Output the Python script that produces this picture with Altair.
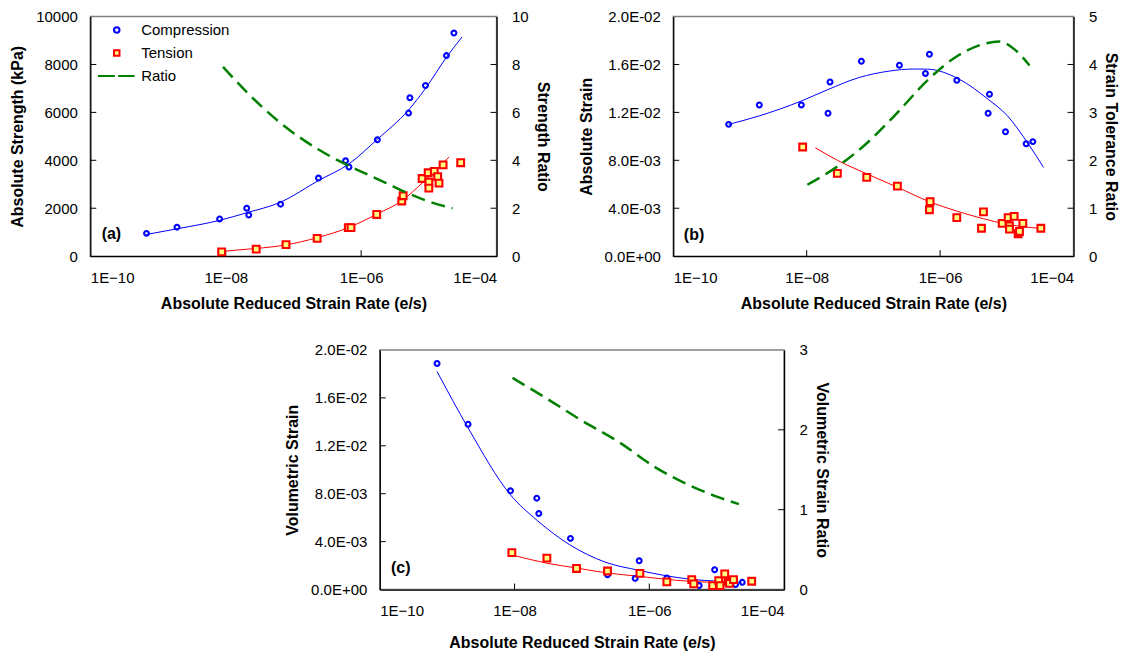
import json
import altair as alt
import pandas as pd

FONT = "Liberation Sans"
XTITLE = "Absolute Reduced Strain Rate (e/s)"
SERIES = ["Compression", "Tension", "Ratio"]
STROKES = ["#0000FF", "#FF0000", "#008000"]
FILLS = ["transparent", "#FFFF80", "transparent"]
SHAPES = ["circle", "square", "M-6.9,0H-0.7M0.5,0H6.5"]
X_TICKS = [1e-10, 1e-8, 1e-6, 1e-4]
X_INNER = [1e-8, 1e-6]

# ---------- panel (a) : log10 of strain rate, values ----------
a_comp_x = [-9.17, -8.72, -8.09, -7.69, -7.66, -7.19, -6.63, -6.23, -6.18, -5.76, -5.30, -5.28, -5.05, -4.74, -4.63]
a_comp_y = [950, 1210, 1550, 2000, 1720, 2170, 3260, 3980, 3720, 4860, 5970, 6610, 7120, 8370, 9310]
a_tens_x = [-8.06, -7.55, -7.11, -6.65, -6.19, -6.15, -5.77, -5.40, -5.38, -5.10, -5.01, -5.00, -5.00, -4.92, -4.87, -4.85, -4.79, -4.53]
a_tens_y = [180, 290, 480, 740, 1190, 1190, 1740, 2300, 2520, 3240, 3480, 3090, 2840, 3540, 3320, 3050, 3810, 3900]
a_cfit_x = [-9.17, -8.70, -8.09, -7.69, -7.19, -6.63, -6.18, -5.76, -5.30, -5.05, -4.74, -4.51]
a_cfit_y = [905, 1150, 1494, 1811, 2251, 3156, 3850, 4880, 6100, 7000, 8300, 9150]
a_tfit_x = [-8.06, -7.85, -7.55, -7.11, -6.65, -6.17, -5.77, -5.39, -5.10, -4.70]
a_tfit_y = [190, 250, 320, 470, 770, 1210, 1750, 2330, 3050, 4140]
a_ratio_x = [-8.04, -7.69, -7.21, -6.63, -6.26, -5.94, -5.63, -5.35, -5.00, -4.65]
a_ratio_y = [7.9, 6.85, 5.6, 4.45, 3.88, 3.45, 3.05, 2.68, 2.28, 2.0]

# ---------- panel (b) ----------
b_comp_x = [-9.17, -8.71, -8.08, -7.68, -7.65, -7.18, -6.61, -6.22, -6.16, -5.75, -5.28, -5.26, -5.02, -4.71, -4.61]
b_comp_y = [0.0110, 0.01262, 0.01262, 0.01193, 0.01454, 0.01627, 0.01594, 0.01525, 0.01685, 0.01468, 0.01193, 0.01352, 0.01038, 0.00938, 0.00956]
b_tens_x = [-8.06, -7.54, -7.10, -6.64, -6.15, -6.16, -5.75, -5.38, -5.35, -5.07, -4.98, -4.96, -4.96, -4.89, -4.83, -4.81, -4.76, -4.49]
b_tens_y = [0.00911, 0.00691, 0.00658, 0.00584, 0.00455, 0.00387, 0.00321, 0.00233, 0.00370, 0.00274, 0.00321, 0.00253, 0.00225, 0.00332, 0.00187, 0.00206, 0.00274, 0.00233]
b_cfit_x = [-9.17, -8.71, -8.08, -7.68, -7.22, -6.76, -6.40, -6.19, -5.72, -5.28, -4.99, -4.68, -4.45]
b_cfit_y = [0.0110, 0.01171, 0.01295, 0.01391, 0.01490, 0.01545, 0.01562, 0.01561, 0.01479, 0.01309, 0.01171, 0.00938, 0.00741]
b_tfit_x = [-7.87, -7.54, -7.11, -6.64, -6.15, -5.75, -5.35, -5.03, -4.78, -4.49]
b_tfit_y = [0.00905, 0.0080, 0.0069, 0.00575, 0.00452, 0.00376, 0.00312, 0.0027, 0.00247, 0.00232]
b_ratio_x = [-7.99, -7.54, -7.12, -6.65, -6.19, -5.77, -5.37, -5.11, -4.88, -4.66]
b_ratio_y = [1.49, 1.87, 2.33, 2.98, 3.67, 4.15, 4.42, 4.48, 4.31, 3.98]

# ---------- panel (c) ----------
c_comp_x = [-9.15, -8.69, -8.06, -7.67, -7.64, -7.17, -6.62, -6.21, -6.15, -5.74, -5.26, -5.03, -4.72, -4.62]
c_comp_y = [0.01887, 0.0138, 0.00824, 0.00763, 0.00634, 0.00427, 0.00124, 0.00093, 0.0024, 0.00097, 0.00033, 0.00165, 0.00041, 0.0006]
c_tens_x = [-8.04, -7.52, -7.08, -6.62, -6.14, -5.74, -5.37, -5.34, -5.06, -4.97, -4.95, -4.88, -4.83, -4.81, -4.75, -4.48]
c_tens_y = [0.00308, 0.00262, 0.00176, 0.00155, 0.00135, 0.00064, 0.00083, 0.00047, 0.00033, 0.00074, 0.00033, 0.0013, 0.00069, 0.00052, 0.00083, 0.00069]
c_cfit_x = [-9.15, -8.69, -8.06, -7.67, -7.17, -6.66, -6.15, -5.75, -5.37, -5.00, -4.63]
c_cfit_y = [0.0182, 0.0135, 0.0079, 0.0058, 0.0037, 0.0023, 0.0016, 0.00115, 0.00085, 0.0007, 0.0006]
c_tfit_x = [-8.04, -7.52, -7.08, -6.62, -6.14, -5.60, -5.07, -4.75]
c_tfit_y = [0.00289, 0.0022, 0.0018, 0.00138, 0.0011, 0.00077, 0.0006, 0.00055]
c_ratio_x = [-8.03, -7.50, -7.03, -6.44, -5.91, -5.39, -5.02, -4.67]
c_ratio_y = [2.65, 2.38, 2.13, 1.84, 1.53, 1.30, 1.17, 1.07]

# axis ticks / labels
a_yticks = [0, 2000, 4000, 6000, 8000, 10000]
a_ylabels = ["0", "2000", "4000", "6000", "8000", "10000"]
a_rticks = [0, 2, 4, 6, 8, 10]
e_yticks = [0, 0.004, 0.008, 0.012, 0.016, 0.02]
e_ylabels = ["0.0E+00", "4.0E-03", "8.0E-03", "1.2E-02", "1.6E-02", "2.0E-02"]
b_rticks = [0, 1, 2, 3, 4, 5]
c_rticks = [0, 1, 2, 3]

TAG_X = 2.05e-10


def rates(v):
    return [10 ** e for e in v]


def panel(cx, cy, tx, ty, cfx, cfy, tfx, tfy, rx, ry,
          yticks, ylabels, ytitle, rticks, rtitle, tag, tag_y,
          show_legend, W, H, xtp):
    ystep = yticks[1]
    X = alt.X("rate:Q",
              scale=alt.Scale(type="log", domain=[X_TICKS[0], X_TICKS[-1]]),
              axis=alt.Axis(values=X_TICKS, title=XTITLE, titlePadding=xtp, labelPadding=14,
                            labelExpr="'1E' + format(round(log(datum.value)/LN10), '03d')"))
    Y = alt.Y("val:Q", scale=alt.Scale(domain=[yticks[0], yticks[-1]]),
              axis=alt.Axis(values=yticks, title=ytitle, titlePadding=10, labelPadding=13,
                            labelExpr=json.dumps(ylabels) + "[round(datum.value/" + repr(ystep) + ")]"))
    YR = alt.Y("ratio:Q", scale=alt.Scale(domain=[rticks[0], rticks[-1]]),
               axis=alt.Axis(values=rticks, title=rtitle, orient="right", titlePadding=6, labelPadding=15))

    pts = pd.DataFrame({"rate": rates(cx) + rates(tx), "val": cy + ty,
                        "series": ["Compression"] * len(cx) + ["Tension"] * len(tx)})
    cfit = pd.DataFrame({"rate": rates(cfx), "val": cfy})
    tfit = pd.DataFrame({"rate": rates(tfx), "val": tfy})
    rat = pd.DataFrame({"rate": rates(rx), "ratio": ry})
    lt = pd.DataFrame({"val": yticks[1:-1]})
    rt = pd.DataFrame({"ratio": rticks[1:-1]})
    bt = pd.DataFrame({"rate": X_INNER})
    tg = pd.DataFrame({"rate": [TAG_X], "val": [tag_y], "label": [tag]})

    if show_legend:
        leg = alt.Legend(title=None, orient="none", legendX=19, legendY=6, symbolSize=30,
                         symbolStrokeWidth=2, labelFontSize=15, labelFont=FONT, labelOffset=17,
                         rowPadding=7, padding=0, symbolOpacity=1, labelColor="black")
    else:
        leg = None

    cfit_l = alt.Chart(cfit).mark_line(color=STROKES[0], strokeWidth=1, interpolate="monotone").encode(x=X, y=Y)
    tfit_l = alt.Chart(tfit).mark_line(color=STROKES[1], strokeWidth=1, interpolate="monotone").encode(x=X, y=Y)
    points = alt.Chart(pts).mark_point(strokeWidth=2.1, opacity=1).encode(
        x=X, y=Y,
        stroke=alt.Stroke("series:N", scale=alt.Scale(domain=SERIES, range=STROKES), legend=leg),
        fill=alt.Fill("series:N", scale=alt.Scale(domain=SERIES, range=FILLS), legend=leg),
        shape=alt.Shape("series:N", scale=alt.Scale(domain=SERIES, range=SHAPES), legend=leg),
        size=alt.condition(alt.datum.series == "Tension", alt.value(46), alt.value(24)),
    )
    tag_t = alt.Chart(tg).mark_text(font=FONT, fontSize=16, fontWeight="bold", align="center",
                                    baseline="middle", color="black").encode(x=X, y=Y, text="label:N")
    ltick = alt.Chart(lt).mark_rule(color="black", strokeWidth=1).encode(y=Y, x=alt.value(0), x2=alt.value(6))
    btick = alt.Chart(bt).mark_rule(color="black", strokeWidth=1).encode(x=X, y=alt.value(H - 6), y2=alt.value(H))

    ratio_l = alt.Chart(rat).mark_line(color=STROKES[2], strokeWidth=2.5, strokeDash=[14, 7],
                                       interpolate="monotone").encode(x=X, y=YR)
    rtick = alt.Chart(rt).mark_rule(color="black", strokeWidth=1).encode(y=YR, x=alt.value(W - 6), x2=alt.value(W))

    left = alt.layer(ltick, btick, cfit_l, tfit_l, points, tag_t)
    right = alt.layer(ratio_l, rtick)
    return alt.layer(left, right).resolve_scale(y="independent").properties(width=W, height=H)


A = panel(a_comp_x, a_comp_y, a_tens_x, a_tens_y, a_cfit_x, a_cfit_y, a_tfit_x, a_tfit_y,
          a_ratio_x, a_ratio_y, a_yticks, a_ylabels, "Absolute Strength (kPa)",
          a_rticks, "Strength Ratio", "(a)", 905, True, 407, 240, 10)
B = panel(b_comp_x, b_comp_y, b_tens_x, b_tens_y, b_cfit_x, b_cfit_y, b_tfit_x, b_tfit_y,
          b_ratio_x, b_ratio_y, e_yticks, e_ylabels, "Absolute Strain",
          b_rticks, "Strain Tolerance Ratio", "(b)", 0.00173, False, 401, 240, 10)
C = panel(c_comp_x, c_comp_y, c_tens_x, c_tens_y, c_cfit_x, c_cfit_y, c_tfit_x, c_tfit_y,
          c_ratio_x, c_ratio_y, e_yticks, e_ylabels, "Volumetric Strain",
          c_rticks, "Volumetric Strain Ratio", "(c)", 0.00182, False, 405, 240, 16)

top = alt.hconcat(A, B, spacing=25).resolve_scale(stroke="independent", fill="independent", shape="independent")
chart = alt.vconcat(top, C, spacing=30, center=True).resolve_scale(
    stroke="independent", fill="independent", shape="independent"
).properties(padding=0).configure_view(
    stroke="#808080", strokeWidth=1.5
).configure_axis(
    domainColor="black", domainWidth=1.3, labelFont=FONT, labelFontSize=15, labelColor="black",
    titleFont=FONT, titleFontSize=16, titleFontWeight="bold", titleColor="black",
    grid=False, ticks=False
)

chart.save("out.html", embed_options={"renderer": "svg", "actions": False})
